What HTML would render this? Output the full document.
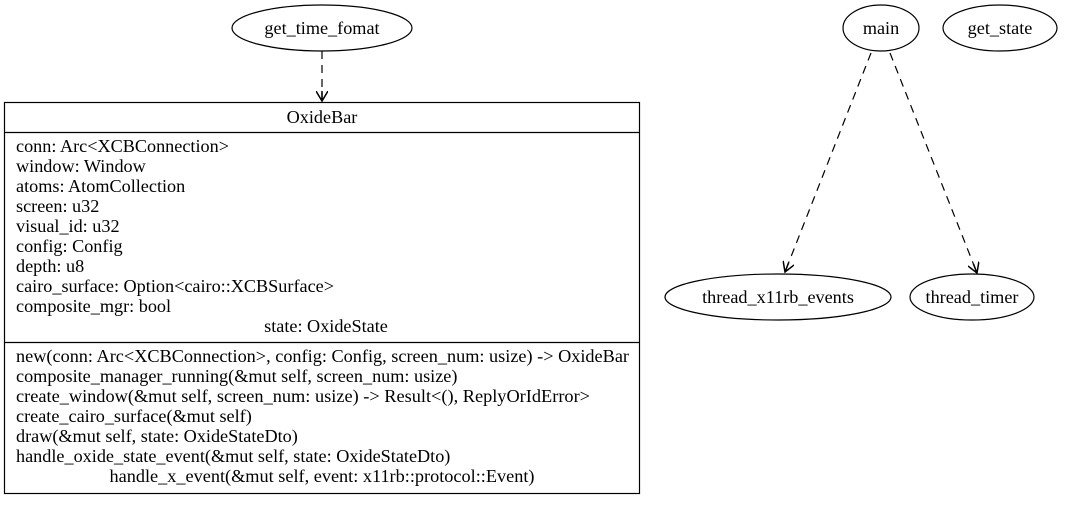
<!DOCTYPE html>
<html><head><meta charset="utf-8"><style>html,body{margin:0;padding:0;background:#fff}svg text{font-family:"Liberation Serif",serif;font-size:18.2px}</style></head><body>
<svg width="1067" height="500" viewBox="0 0 1067 500" xmlns="http://www.w3.org/2000/svg" fill="#000">
<defs><marker id="a" markerWidth="12" markerHeight="12" refX="10" refY="6" orient="auto" markerUnits="userSpaceOnUse"><path d="M0,0 L10,6 L0,12 M10,6 L0,6" fill="none" stroke="#000" stroke-width="1.5"/></marker></defs>
<g fill="none" stroke="#000" stroke-width="1.2">
<ellipse cx="322" cy="28" rx="90" ry="23"/>
<ellipse cx="881" cy="28" rx="38" ry="23"/>
<ellipse cx="1000" cy="28" rx="57" ry="23"/>
<ellipse cx="778" cy="297" rx="113" ry="23"/>
<ellipse cx="972" cy="297" rx="62" ry="23"/>
<rect x="4.5" y="102.5" width="635" height="391"/>
<line x1="4.5" y1="132.5" x2="639.5" y2="132.5"/>
<line x1="4.5" y1="342.5" x2="639.5" y2="342.5"/>
<g stroke-dasharray="8,6" marker-end="url(#a)">
<line x1="322" y1="51" x2="322" y2="101"/>
<line x1="871" y1="53" x2="785" y2="272"/>
<line x1="890" y1="53" x2="977" y2="273"/>
</g>
</g>
<g text-anchor="middle">
<text x="322" y="34">get_time_fomat</text>
<text x="881" y="34">main</text>
<text x="1000" y="34">get_state</text>
<text x="778" y="303">thread_x11rb_events</text>
<text x="972" y="303">thread_timer</text>
<text x="322" y="123">OxideBar</text>
<text x="326" y="332">state: OxideState</text>
<text x="322" y="482" textLength="425" lengthAdjust="spacingAndGlyphs">handle_x_event(&amp;mut self, event: x11rb::protocol::Event)</text>
</g>
<g>
<text x="16" y="152">conn: Arc&lt;XCBConnection&gt;</text>
<text x="16" y="172">window: Window</text>
<text x="16" y="192">atoms: AtomCollection</text>
<text x="16" y="212">screen: u32</text>
<text x="16" y="232">visual_id: u32</text>
<text x="16" y="252">config: Config</text>
<text x="16" y="272">depth: u8</text>
<text x="16" y="292">cairo_surface: Option&lt;cairo::XCBSurface&gt;</text>
<text x="16" y="312">composite_mgr: bool</text>
<text x="16" y="362" textLength="613" lengthAdjust="spacingAndGlyphs">new(conn: Arc&lt;XCBConnection&gt;, config: Config, screen_num: usize) -&gt; OxideBar</text>
<text x="16" y="382">composite_manager_running(&amp;mut self, screen_num: usize)</text>
<text x="16" y="402" textLength="574" lengthAdjust="spacingAndGlyphs">create_window(&amp;mut self, screen_num: usize) -&gt; Result&lt;(), ReplyOrIdError&gt;</text>
<text x="16" y="422">create_cairo_surface(&amp;mut self)</text>
<text x="16" y="442">draw(&amp;mut self, state: OxideStateDto)</text>
<text x="16" y="462">handle_oxide_state_event(&amp;mut self, state: OxideStateDto)</text>
</g>
</svg>
</body></html>
